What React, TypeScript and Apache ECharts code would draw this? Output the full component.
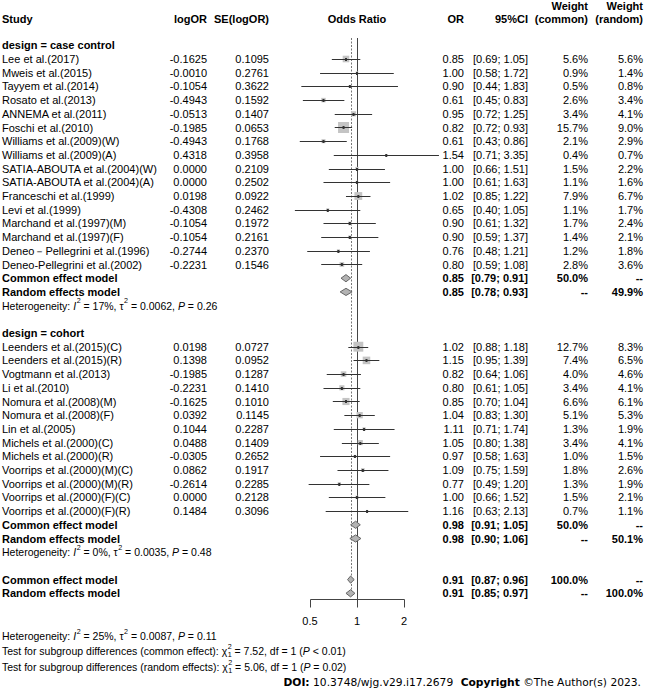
import React, { useEffect, useRef } from "react";
import * as echarts from "echarts";

// ---------------- data ----------------
const ccStudies = [
  "Lee et al.(2017)", "Mweis et al.(2015)", "Tayyem et al.(2014)", "Rosato et al.(2013)",
  "ANNEMA et al.(2011)", "Foschi et al.(2010)", "Williams et al.(2009)(W)", "Williams et al.(2009)(A)",
  "SATIA-ABOUTA et al.(2004)(W)", "SATIA-ABOUTA et al.(2004)(A)", "Franceschi et al.(1999)", "Levi et al.(1999)",
  "Marchand et al.(1997)(M)", "Marchand et al.(1997)(F)", "Deneo\uFF0DPellegrini et al.(1996)", "Deneo-Pellegrini et al.(2002)",
];
const ccLogOR = [-0.1625, -0.001, -0.1054, -0.4943, -0.0513, -0.1985, -0.4943, 0.4318, 0.0, 0.0, 0.0198, -0.4308, -0.1054, -0.1054, -0.2744, -0.2231];
const ccSE = [0.1095, 0.2761, 0.3622, 0.1592, 0.1407, 0.0653, 0.1768, 0.3958, 0.2109, 0.2502, 0.0922, 0.2462, 0.1972, 0.2161, 0.237, 0.1546];
const ccOR = [0.85, 1.0, 0.9, 0.61, 0.95, 0.82, 0.61, 1.54, 1.0, 1.0, 1.02, 0.65, 0.9, 0.9, 0.76, 0.8];
const ccLower = [0.69, 0.58, 0.44, 0.45, 0.72, 0.72, 0.43, 0.71, 0.66, 0.61, 0.85, 0.4, 0.61, 0.59, 0.48, 0.59];
const ccUpper = [1.05, 1.72, 1.83, 0.83, 1.25, 0.93, 0.86, 3.35, 1.51, 1.63, 1.22, 1.05, 1.32, 1.37, 1.21, 1.08];
const ccWCommon = [5.6, 0.9, 0.5, 2.6, 3.4, 15.7, 2.1, 0.4, 1.5, 1.1, 7.9, 1.1, 1.7, 1.4, 1.2, 2.8];
const ccWRandom = [5.6, 1.4, 0.8, 3.4, 4.1, 9.0, 2.9, 0.7, 2.2, 1.6, 6.7, 1.7, 2.4, 2.1, 1.8, 3.6];

const coStudies = [
  "Leenders et al.(2015)(C)", "Leenders et al.(2015)(R)", "Vogtmann et al.(2013)", "Li et al.(2010)",
  "Nomura et al.(2008)(M)", "Nomura et al.(2008)(F)", "Lin et al.(2005)", "Michels et al.(2000)(C)",
  "Michels et al.(2000)(R)", "Voorrips et al.(2000)(M)(C)", "Voorrips et al.(2000)(M)(R)",
  "Voorrips et al.(2000)(F)(C)", "Voorrips et al.(2000)(F)(R)",
];
const coLogOR = [0.0198, 0.1398, -0.1985, -0.2231, -0.1625, 0.0392, 0.1044, 0.0488, -0.0305, 0.0862, -0.2614, 0.0, 0.1484];
const coSE = [0.0727, 0.0952, 0.1287, 0.141, 0.101, 0.1145, 0.2287, 0.1409, 0.2652, 0.1917, 0.2285, 0.2128, 0.3096];
const coOR = [1.02, 1.15, 0.82, 0.8, 0.85, 1.04, 1.11, 1.05, 0.97, 1.09, 0.77, 1.0, 1.16];
const coLower = [0.88, 0.95, 0.64, 0.61, 0.7, 0.83, 0.71, 0.8, 0.58, 0.75, 0.49, 0.66, 0.63];
const coUpper = [1.18, 1.39, 1.06, 1.05, 1.04, 1.3, 1.74, 1.38, 1.63, 1.59, 1.2, 1.52, 2.13];
const coWCommon = [12.7, 7.4, 4.0, 3.4, 6.6, 5.1, 1.3, 3.4, 1.0, 1.8, 1.3, 1.5, 0.7];
const coWRandom = [8.3, 6.5, 4.6, 4.1, 6.1, 5.3, 1.9, 4.1, 1.5, 2.6, 1.9, 2.1, 1.1];

const summaryLabels = ["Common effect model", "Random effects model"];
const ccSumOR = [0.85, 0.85];
const ccSumLower = [0.79, 0.78];
const ccSumUpper = [0.91, 0.93];
const ccSumWCommon = [50.0, null];
const ccSumWRandom = [null, 49.9];
const coSumOR = [0.98, 0.98];
const coSumLower = [0.91, 0.9];
const coSumUpper = [1.05, 1.06];
const coSumWCommon = [50.0, null];
const coSumWRandom = [null, 50.1];
const allSumOR = [0.91, 0.91];
const allSumLower = [0.87, 0.85];
const allSumUpper = [0.96, 0.97];
const allSumWCommon = [100.0, null];
const allSumWRandom = [null, 100.0];

const groupTitles = ["design = case control", "design = cohort"];
const hetI2 = ["17%", "0%", "25%"];
const hetTau2 = ["0.0062", "0.0035", "0.0087"];
const hetP = ["0.26", "0.48", "0.11"];
const testLabels = ["common effect", "random effects"];
const testChi2 = ["7.52", "5.06"];
const testP = ["< 0.01", "= 0.02"];

const axisTicks = [0.5, 1, 2];

// ---------------- layout ----------------
const FONT = "'Liberation Sans', Arial, Helvetica, sans-serif";
const DOI_FONT = "'DejaVu Sans', Verdana, sans-serif";
const X = { study: 2, logor: 207, se: 269, or: 464, ci: 528, wc: 588, wr: 643 };
const ROW0 = 59;
const ROWH = 13.7;
const AXIS_ROW = (600 - ROW0) / ROWH;
const TOP_ROW = (38 - ROW0) / ROWH;
const DASH_END_ROW = (591 - ROW0) / ROWH;
const X_MIN = 0.36;
const X_MAX = 3.6;
const PX_PER_LN = 67.8;
const GRID_LEFT = 357 - PX_PER_LN * Math.log(1 / X_MIN);
const GRID_WIDTH = PX_PER_LN * Math.log(X_MAX / X_MIN);
const Y_MIN = -4;
const TICK_LEN = 8;

let _ctx: CanvasRenderingContext2D | null = null;
function measure(text: string, font: string): number {
  if (!_ctx) _ctx = document.createElement("canvas").getContext("2d");
  _ctx!.font = font;
  return _ctx!.measureText(text).width;
}

function textEl(text: string, x: number, y: number, font: string, align = "left", fill = "#000") {
  return {
    type: "text",
    x,
    y,
    silent: true,
    style: {
      text,
      font,
      fill,
      textFill: fill,
      align,
      textAlign: align,
      verticalAlign: "middle",
      textVerticalAlign: "middle",
    },
  };
}

const f = (size: number, bold = false, italic = false, family = FONT) =>
  `${italic ? "italic " : ""}${bold ? "bold " : ""}${size}px ${family}`;

type Seg = { t: string; k?: "n" | "i" | "b" | "sup" | "supsub"; t2?: string };

function richLine(segs: Seg[], x0: number, y: number, size: number, family: string, align = "left") {
  const small = size * 0.68;
  const fontOf = (k: string | undefined, s: number) => f(s, k === "b", k === "i", family);
  const widths = segs.map((s) =>
    s.k === "sup"
      ? measure(s.t, fontOf("n", small))
      : s.k === "supsub"
      ? Math.max(measure(s.t, fontOf("n", small)), measure(s.t2 || "", fontOf("n", small)))
      : measure(s.t, fontOf(s.k, size))
  );
  const total = widths.reduce((a, b) => a + b, 0);
  let x = align === "right" ? x0 - total : x0;
  const out: any[] = [];
  segs.forEach((s, i) => {
    if (s.k === "sup") {
      out.push(textEl(s.t, x + 0.5, y - size * 0.4, fontOf("n", small)));
    } else if (s.k === "supsub") {
      out.push(textEl(s.t, x + 0.5, y - size * 0.4, fontOf("n", small)));
      out.push(textEl(s.t2 || "", x + 0.5, y + size * 0.37, fontOf("n", small)));
    } else {
      const lead = (s.t.match(/^ */) || [""])[0];
      const fo = fontOf(s.k, size);
      out.push(textEl(s.t.slice(lead.length), x + (lead ? measure(lead, fo) : 0), y, fo));
    }
    x += widths[i] + (s.k === "sup" || s.k === "supsub" ? 0.5 : 0);
  });
  return out;
}

const hetSegs = (i: number): Seg[] => [
  { t: "Heterogeneity: " },
  { t: "I", k: "i" },
  { t: "2", k: "sup" },
  { t: " = " + hetI2[i] + ", \u03C4" },
  { t: "2", k: "sup" },
  { t: " = " + hetTau2[i] + ", " },
  { t: "P", k: "i" },
  { t: " = " + hetP[i] },
];

// ---------------- rows ----------------
type Row = any;
const rows: Row[] = [];
function addGroup(
  startRow: number, title: string, names: string[], logor: number[], se: number[], or: number[],
  lo: number[], hi: number[], wc: number[], wr: number[],
  sOR: number[], sLo: number[], sHi: number[], sWc: (number | null)[], sWr: (number | null)[], hetIdx: number
) {
  rows.push({ kind: "heading", row: startRow, text: title });
  names.forEach((n, i) =>
    rows.push({ kind: "study", row: startRow + 1 + i, name: n, logor: logor[i], se: se[i], or: or[i], lo: lo[i], hi: hi[i], wc: wc[i], wr: wr[i] })
  );
  const r = startRow + 1 + names.length;
  summaryLabels.forEach((lab, j) =>
    rows.push({ kind: "summary", row: r + j, name: lab, or: sOR[j], lo: sLo[j], hi: sHi[j], wc: sWc[j], wr: sWr[j] })
  );
  rows.push({ kind: "het", row: r + 2, idx: hetIdx });
  return r + 4;
}
let next = addGroup(-1, groupTitles[0], ccStudies, ccLogOR, ccSE, ccOR, ccLower, ccUpper, ccWCommon, ccWRandom,
  ccSumOR, ccSumLower, ccSumUpper, ccSumWCommon, ccSumWRandom, 0);
next = addGroup(next, groupTitles[1], coStudies, coLogOR, coSE, coOR, coLower, coUpper, coWCommon, coWRandom,
  coSumOR, coSumLower, coSumUpper, coSumWCommon, coSumWRandom, 1);
summaryLabels.forEach((lab, j) =>
  rows.push({ kind: "summary", row: next + j, name: lab, or: allSumOR[j], lo: allSumLower[j], hi: allSumUpper[j], wc: allSumWCommon[j], wr: allSumWRandom[j] })
);

const pct = (v: number | null) => (v == null ? "--" : v.toFixed(1) + "%");
const ciText = (lo: number, hi: number) => `[${lo.toFixed(2)}; ${hi.toFixed(2)}]`;
const SQK = 2.78;

function renderRow(params: any, api: any) {
  const r = rows[params.dataIndex];
  const y = api.coord([1, r.row])[1];
  const cx = (v: number) => api.coord([v, r.row])[0];
  const ch: any[] = [];
  const F11 = f(11);
  const B11 = f(11, true);
  if (r.kind === "heading") {
    ch.push(textEl(r.text, X.study, y, B11));
  } else if (r.kind === "study") {
    const s = SQK * Math.sqrt(r.wc);
    const ly = Math.round(y) + 0.5;
    ch.push({ type: "rect", shape: { x: cx(r.or) - s / 2, y: y - s / 2, width: s, height: s }, style: { fill: "#C4C4C4" } });
    ch.push({ type: "line", shape: { x1: cx(r.lo), y1: ly, x2: cx(r.hi), y2: ly }, style: { stroke: "#333", lineWidth: 1 } });
    ch.push({ type: "rect", shape: { x: cx(r.or) - 1, y: ly - 1.5, width: 2, height: 3 }, style: { fill: "#333" } });
    ch.push(textEl(r.name, X.study, y, F11));
    ch.push(textEl(r.logor.toFixed(4), X.logor, y, F11, "right"));
    ch.push(textEl(r.se.toFixed(4), X.se, y, F11, "right"));
    ch.push(textEl(r.or.toFixed(2), X.or, y, F11, "right"));
    ch.push(textEl(ciText(r.lo, r.hi), X.ci, y, F11, "right"));
    ch.push(textEl(pct(r.wc), X.wc, y, F11, "right"));
    ch.push(textEl(pct(r.wr), X.wr, y, F11, "right"));
  } else if (r.kind === "summary") {
    const h = 3.6;
    ch.push({
      type: "polygon",
      shape: { points: [[cx(r.lo), y], [cx(r.or), y - h], [cx(r.hi), y], [cx(r.or), y + h]] },
      style: { fill: "#B3B3B3", stroke: "#666", lineWidth: 1 },
    });
    ch.push(textEl(r.name, X.study, y, B11));
    ch.push(textEl(r.or.toFixed(2), X.or, y, B11, "right"));
    ch.push(textEl(ciText(r.lo, r.hi), X.ci, y, B11, "right"));
    ch.push(textEl(pct(r.wc), X.wc, y, B11, "right"));
    ch.push(textEl(pct(r.wr), X.wr, y, B11, "right"));
  } else if (r.kind === "het") {
    ch.push(...richLine(hetSegs(r.idx), X.study, y, 10.5, FONT));
  }
  return { type: "group", children: ch };
}

function renderRefs(params: any, api: any) {
  const y0 = api.coord([1, TOP_ROW])[1];
  const yAxis = Math.round(api.coord([1, AXIS_ROW])[1]) - 0.5;
  const yDash = api.coord([1, DASH_END_ROW])[1];
  const x1 = Math.round(api.coord([1, 0])[0]) + 0.5;
  const xd = Math.round(api.coord([allSumOR[0], 0])[0]) + 0.5;
  const xa = Math.round(api.coord([axisTicks[0], 0])[0]) + 0.5;
  const xb = Math.round(api.coord([axisTicks[axisTicks.length - 1], 0])[0]) + 0.5;
  const ch: any[] = [
    { type: "line", shape: { x1: xd, y1: y0, x2: xd, y2: yDash }, style: { stroke: "#777", lineWidth: 1, lineDash: [2, 1.5] } },
    { type: "line", shape: { x1, y1: y0, x2: x1, y2: yAxis }, style: { stroke: "#444", lineWidth: 1 } },
    { type: "line", shape: { x1: xa, y1: yAxis, x2: xb, y2: yAxis }, style: { stroke: "#444", lineWidth: 1 } },
  ];
  axisTicks.forEach((t) => {
    const tx = Math.round(api.coord([t, 0])[0]) + 0.5;
    ch.push({ type: "line", shape: { x1: tx, y1: yAxis, x2: tx, y2: yAxis + TICK_LEN }, style: { stroke: "#444", lineWidth: 1 } });
  });
  return { type: "group", children: ch };
}

// ---------------- headers & footers ----------------
function buildGraphic() {
  const B11 = f(11, true);
  const g: any[] = [
    textEl("Study", X.study, 19, B11),
    textEl("logOR", X.logor, 19, B11, "right"),
    textEl("SE(logOR)", X.se, 19, B11, "right"),
    textEl("Odds Ratio", 357, 19, B11, "center"),
    textEl("OR", X.or, 19, B11, "right"),
    textEl("95%CI", X.ci, 19, B11, "right"),
    textEl("Weight", X.wc, 6, B11, "right"),
    textEl("(common)", X.wc, 19, B11, "right"),
    textEl("Weight", X.wr, 6, B11, "right"),
    textEl("(random)", X.wr, 19, B11, "right"),
  ];
  g.push(...richLine(hetSegs(2), X.study, 636, 10.5, FONT));
  testLabels.forEach((lab, i) => {
    g.push(
      ...richLine(
        [
          { t: `Test for subgroup differences (${lab}): \u03C7` },
          { t: "2", t2: "1", k: "supsub" },
          { t: ` = ${testChi2[i]}, df = 1 (` },
          { t: "P", k: "i" },
          { t: ` ${testP[i]})` },
        ],
        X.study, 651 + i * 16, 10.5, FONT
      )
    );
  });
  g.push(
    ...richLine(
      [
        { t: "DOI:", k: "b" },
        { t: " 10.3748/wjg.v29.i17.2679" },
        { t: "  Copyright", k: "b" },
        { t: " \u00A9The Author(s) 2023." },
      ],
      641, 682, 10.7, DOI_FONT, "right"
    )
  );
  return g;
}

export default function App() {
  const ref = useRef<HTMLDivElement>(null);
  useEffect(() => {
    if (!ref.current) return;
    const chart = echarts.init(ref.current, null, { renderer: "svg" });
    const option: any = {
      animation: false,
      backgroundColor: "#fff",
      grid: {
        left: GRID_LEFT,
        width: GRID_WIDTH,
        top: ROW0 + ROWH * Y_MIN,
        height: ROWH * (AXIS_ROW - Y_MIN),
      },
      xAxis: {
        type: "log",
        logBase: 10,
        min: X_MIN,
        max: X_MAX,
        axisLine: { show: false },
        splitLine: { show: false },
        minorTick: { show: false },
        axisTick: { show: false },
        axisLabel: {
          customValues: axisTicks,
          formatter: (v: number) => String(v),
          color: "#000",
          fontSize: 11,
          fontFamily: FONT,
          margin: 15,
        },
      },
      yAxis: { type: "value", inverse: true, min: Y_MIN, max: AXIS_ROW, show: false },
      graphic: { elements: buildGraphic() },
      series: [
        {
          type: "custom",
          coordinateSystem: "cartesian2d",
          silent: true,
          clip: false,
          data: [[1, 0]],
          renderItem: renderRefs,
          z: 1,
        },
        {
          type: "custom",
          coordinateSystem: "cartesian2d",
          silent: true,
          clip: false,
          data: rows.map((r) => [1, r.row]),
          renderItem: renderRow,
          z: 2,
        },
      ],
    };
    chart.setOption(option);
    return () => chart.dispose();
  }, []);
  return (
    <div
      ref={ref}
      style={{ position: "fixed", left: 0, top: 0, width: 645, height: 689, background: "#fff" }}
    />
  );
}
